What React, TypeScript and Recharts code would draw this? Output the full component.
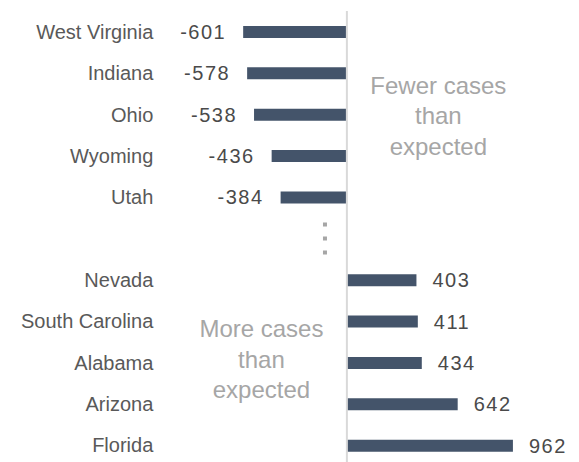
import { BarChart, Bar, XAxis, YAxis, ReferenceLine, ReferenceDot, LabelList } from 'recharts';

const GAP = 'gap';
const states = ['West Virginia', 'Indiana', 'Ohio', 'Wyoming', 'Utah', GAP, 'Nevada', 'South Carolina', 'Alabama', 'Arizona', 'Florida'];
const excessCases = [-601, -578, -538, -436, -384, null, 403, 411, 434, 642, 962];
const fewerNote = ['Fewer cases', 'than', 'expected'];
const moreNote = ['More cases', 'than', 'expected'];

const data = states.map((state, i) => ({ state, value: excessCases[i] }));

const FONT = '"Liberation Sans", Arial, sans-serif';
const BAR = '#44546a';
const TEXT = '#4a4a4a';
const LABEL = '#595959';
const MUTED = '#a6a6a6';

// value label: left of negative bars, right of positive ones
function ValueLabel(props: any) {
  const { x, y, width, height, value } = props;
  if (value == null) return null;
  const left = Math.min(x, x + width);
  const right = Math.max(x, x + width);
  const neg = value < 0;
  return (
    <text
      x={neg ? left - 17 : right + 16}
      y={y + height / 2}
      textAnchor={neg ? 'end' : 'start'}
      dominantBaseline="central"
      fill={TEXT}
      fontSize={20}
      fontFamily={FONT}
      letterSpacing={1.5}
    >
      {value}
    </text>
  );
}

function Note({ cx, cy, lines, shift }: any) {
  return (
    <text textAnchor="middle" fill={MUTED} fontSize={24} fontFamily={FONT}>
      {lines.map((t: string, i: number) => (
        <tspan key={i} x={cx} y={cy + shift + (i - 1) * 30.5}>
          {t}
        </tspan>
      ))}
    </text>
  );
}

function GapDots({ cx, cy }: any) {
  return (
    <g fill={MUTED}>
      {[-14, 0, 14].map((d) => (
        <rect key={d} x={cx - 2} y={cy + d - 2} width={4} height={4} />
      ))}
    </g>
  );
}

export default function App() {
  return (
    <div style={{ position: 'absolute', left: 0, top: 0, width: 579, height: 462, overflow: 'hidden', background: '#fff' }}>
      <BarChart
        width={579}
        height={466}
        data={data}
        layout="vertical"
        margin={{ top: 11, right: 25, bottom: 0, left: 0 }}
      >
        <XAxis type="number" domain={[-1000, 1200]} hide />
        <YAxis
          type="category"
          dataKey="state"
          width={174.3}
          axisLine={false}
          tickLine={false}
          tickSize={0}
          tickMargin={21}
          interval={0}
          tickFormatter={(v: string) => (v === GAP ? '' : v)}
          tick={{ fill: LABEL, fontSize: 20, fontFamily: FONT }}
        />
        <Bar dataKey="value" fill={BAR} barSize={12} isAnimationActive={false}>
          <LabelList dataKey="value" content={<ValueLabel />} />
        </Bar>
        <ReferenceLine x={0} stroke="#d9d9d9" strokeWidth={2} />
        <ReferenceDot x={-127} y={GAP} r={1} shape={(p: any) => <GapDots cx={p.cx} cy={p.cy} />} />
        <ReferenceDot x={530} y="Ohio" r={1} shape={(p: any) => <Note cx={p.cx} cy={p.cy} lines={fewerNote} shift={10} />} />
        <ReferenceDot x={-495} y="Alabama" r={1} shape={(p: any) => <Note cx={p.cx} cy={p.cy} lines={moreNote} shift={5} />} />
      </BarChart>
    </div>
  );
}
